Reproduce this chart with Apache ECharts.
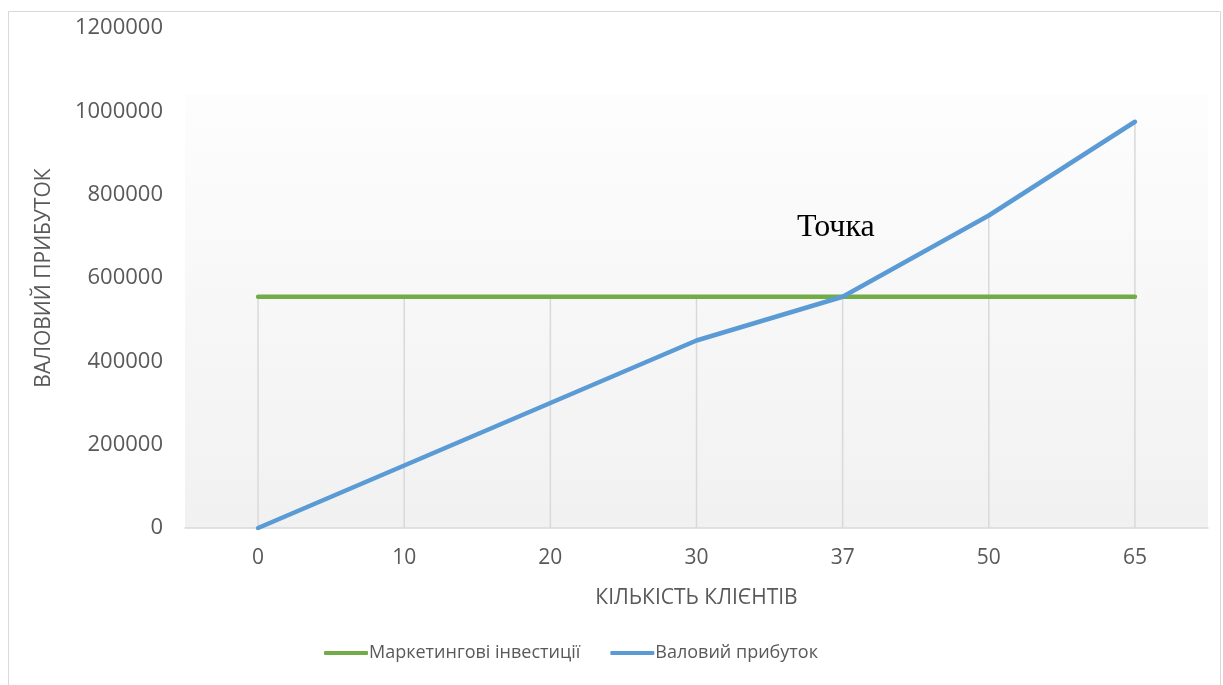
<!DOCTYPE html>
<html>
<head>
<meta charset="utf-8">
<script src="https://cdn.jsdelivr.net/npm/echarts@6/dist/echarts.min.js"></script>
<style>
  html, body { margin: 0; padding: 0; background: #fff; }
  #chart { width: 1223px; height: 685px; }
</style>
</head>
<body>
<div id="chart"></div>
<script>
// Break-even chart: gross profit vs. fixed marketing investment by number of clients
const clients = ['0', '10', '20', '30', '37', '50', '65'];
const marketing = [555000, 555000, 555000, 555000, 555000, 555000, 555000];
const grossProfit = [0, 150000, 300000, 450000, 555000, 750000, 975000];
const yTicks = [0, 200000, 400000, 600000, 800000, 1000000, 1200000];

const marketingName = 'Маркетингові інвестиції';
const profitName = 'Валовий прибуток';
const font = '"Open Sans", "Noto Sans", sans-serif';

// Drop lines reach from the axis up to the higher of the two series
const dropTops = clients.map((c, i) => [i, Math.max(marketing[i], grossProfit[i])]);

const chart = echarts.init(document.getElementById('chart'), null, { renderer: 'canvas' });

chart.setOption({
  animation: false,
  backgroundColor: '#ffffff',
  textStyle: { fontFamily: font },
  grid: {
    left: 185, right: 15, top: 28, bottom: 157,
    show: true,
    borderWidth: 0,
    backgroundColor: {
      type: 'linear', x: 0, y: 0, x2: 0, y2: 1,
      colorStops: [
        { offset: 0, color: '#ffffff' },
        { offset: 0.13, color: '#ffffff' },
        { offset: 0.132, color: '#fdfdfd' },
        { offset: 1, color: '#f1f1f1' }
      ]
    }
  },
  legend: {
    bottom: 18,
    left: 319,
    itemWidth: 44,
    itemHeight: 4,
    itemGap: 30,
    icon: 'roundRect',
    textStyle: { fontFamily: font, fontSize: 18, color: '#595959', padding: [0, 0, 0, -4] },
    data: [marketingName, profitName]
  },
  xAxis: {
    type: 'category',
    data: clients,
    boundaryGap: true,
    name: 'КІЛЬКІСТЬ КЛІЄНТІВ',
    nameLocation: 'middle',
    nameGap: 60,
    nameTextStyle: { fontFamily: font, fontSize: 21, color: '#595959' },
    axisLine: { show: true, lineStyle: { color: '#d9d9d9', width: 1.5 } },
    axisTick: { show: false },
    axisLabel: { margin: 20, fontSize: 21, color: '#595959', fontFamily: font },
    splitLine: { show: false }
  },
  yAxis: {
    type: 'value',
    min: 0,
    max: 1200000,
    interval: 200000,
    name: 'ВАЛОВИЙ ПРИБУТОК',
    nameLocation: 'middle',
    nameGap: 130,
    nameRotate: 90,
    nameTextStyle: { fontFamily: font, fontSize: 21, color: '#595959' },
    axisLine: { show: false },
    axisTick: { show: false },
    splitLine: { show: false },
    axisLabel: {
      margin: 22, fontSize: 22, color: '#595959', fontFamily: font,
      formatter: v => (yTicks.indexOf(v) >= 0 ? String(v) : '')
    }
  },
  series: [
    {
      type: 'custom',
      name: 'drop',
      silent: true,
      z: 1,
      data: dropTops,
      renderItem: function (params, api) {
        const top = api.coord([api.value(0), api.value(1)]);
        const bottom = api.coord([api.value(0), 0]);
        return {
          type: 'line',
          shape: { x1: top[0], y1: top[1], x2: bottom[0], y2: bottom[1] },
          style: { stroke: '#d9d9d9', lineWidth: 1.5 }
        };
      }
    },
    {
      type: 'line',
      name: marketingName,
      data: marketing,
      symbol: 'none',
      z: 3,
      lineStyle: { color: '#70ad47', width: 4.5, cap: 'round' },
      itemStyle: { color: '#70ad47' }
    },
    {
      type: 'line',
      name: profitName,
      data: grossProfit,
      symbol: 'none',
      z: 4,
      lineStyle: { color: '#5b9bd5', width: 4.5, cap: 'round', join: 'round' },
      itemStyle: { color: '#5b9bd5' }
    }
  ],
  graphic: [
    {
      type: 'rect',
      silent: true,
      z: 0,
      shape: { x: 8.5, y: 11.5, width: 1212, height: 690 },
      style: { fill: 'none', stroke: '#d9d9d9', lineWidth: 1 }
    },
    {
      type: 'text',
      left: 797,
      top: 212,
      z: 10,
      style: {
        text: 'Точка',
        font: '32px "Liberation Serif", "DejaVu Serif", serif',
        fill: '#000000'
      }
    }
  ]
});
</script>
</body>
</html>
